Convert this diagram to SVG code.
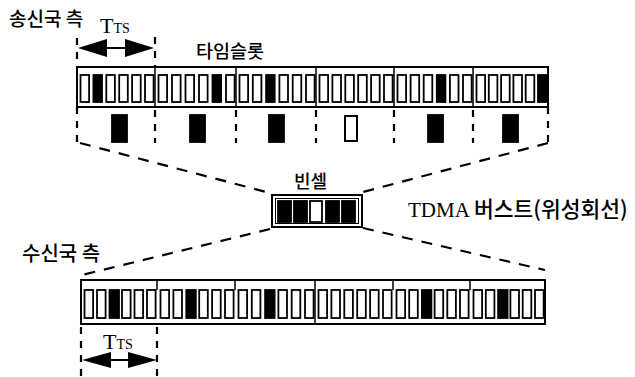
<svg xmlns="http://www.w3.org/2000/svg" width="635" height="377" viewBox="0 0 635 377">
<style>
.c{fill:#fff;stroke:#000;stroke-width:1.8}
.f{fill:#000;stroke:#000;stroke-width:1.8}
.bar{fill:#fff;stroke:#000;stroke-width:2}
.dv{stroke:#000;stroke-width:2.2;stroke-dasharray:7 7;fill:none}
.dd{stroke:#000;stroke-width:2.2;stroke-dasharray:11 9;fill:none}
.tk{stroke:#000;stroke-width:1.5}
.ko{font-family:"Noto Sans CJK KR","Noto Sans",sans-serif;font-weight:500;fill:#000}
.se{font-family:"Liberation Serif","DejaVu Serif",serif;fill:#000}
</style>
<rect width="635" height="377" fill="#fff"/>
<g id="labels">
<text class="ko" x="9" y="26" font-size="19">송신국 측</text>
<text class="ko" x="196" y="58" font-size="18.5">타임슬롯</text>
<text class="ko" x="294" y="188" font-size="18">빈셀</text>
<text class="ko" x="22" y="261" font-size="20">수신국 측</text>
<text x="408" y="217"><tspan class="se" font-size="21">TDMA </tspan><tspan class="ko" font-size="21.5">버스트(위성회선)</tspan></text>
<text class="se" x="100" y="33" font-size="22">T<tspan font-size="14">TS</tspan></text>
<text class="se" x="103" y="349" font-size="22">T<tspan font-size="14">TS</tspan></text>
</g>
<g id="top-bar">
<rect class="bar" x="77" y="67" width="471" height="40"/>
<rect class="c" x="80.5" y="75" width="8.6" height="27"/><rect class="f" x="93.4" y="75" width="8.6" height="27"/><rect class="c" x="106.3" y="75" width="8.6" height="27"/><rect class="c" x="119.2" y="75" width="8.6" height="27"/><rect class="c" x="132.1" y="75" width="8.6" height="27"/><rect class="c" x="145" y="75" width="8.6" height="27"/>
<rect class="c" x="158.5" y="75" width="8.6" height="27"/><rect class="c" x="172" y="75" width="8.6" height="27"/><rect class="c" x="185.5" y="75" width="8.6" height="27"/><rect class="c" x="199" y="75" width="8.6" height="27"/><rect class="f" x="212.5" y="75" width="8.6" height="27"/><rect class="c" x="226" y="75" width="8.6" height="27"/>
<rect class="c" x="239.5" y="75" width="8.6" height="27"/><rect class="c" x="252.8" y="75" width="8.6" height="27"/><rect class="f" x="266.1" y="75" width="8.6" height="27"/><rect class="c" x="279.4" y="75" width="8.6" height="27"/><rect class="c" x="292.7" y="75" width="8.6" height="27"/><rect class="c" x="306" y="75" width="8.6" height="27"/>
<rect class="c" x="319.5" y="75" width="8.6" height="27"/><rect class="c" x="332.4" y="75" width="8.6" height="27"/><rect class="c" x="345.3" y="75" width="8.6" height="27"/><rect class="c" x="358.2" y="75" width="8.6" height="27"/><rect class="c" x="371.1" y="75" width="8.6" height="27"/><rect class="c" x="384" y="75" width="8.6" height="27"/>
<rect class="c" x="397.5" y="75" width="8.6" height="27"/><rect class="c" x="410.6" y="75" width="8.6" height="27"/><rect class="c" x="423.7" y="75" width="8.6" height="27"/><rect class="f" x="436.8" y="75" width="8.6" height="27"/><rect class="c" x="449.9" y="75" width="8.6" height="27"/><rect class="c" x="463" y="75" width="8.6" height="27"/>
<rect class="c" x="476.5" y="75" width="8.6" height="27"/><rect class="c" x="488.8" y="75" width="8.6" height="27"/><rect class="c" x="501.1" y="75" width="8.6" height="27"/><rect class="c" x="513.4" y="75" width="8.6" height="27"/><rect class="c" x="525.7" y="75" width="8.6" height="27"/><rect class="f" x="538" y="75" width="8.6" height="27"/>
<line class="tk" x1="155" y1="67" x2="155" y2="107"/><line class="tk" x1="236" y1="67" x2="236" y2="107"/><line class="tk" x1="316" y1="67" x2="316" y2="107"/><line class="tk" x1="394" y1="67" x2="394" y2="107"/><line class="tk" x1="473" y1="67" x2="473" y2="107"/>
</g>
<g id="slot-cells">
<rect class="f" x="112" y="115" width="15" height="27"/>
<rect class="f" x="190" y="115" width="15" height="27"/>
<rect class="f" x="269" y="115" width="15" height="27"/>
<rect class="c" x="345" y="116" width="12" height="25" style="stroke-width:2"/>
<rect class="f" x="428" y="115" width="15" height="27"/>
<rect class="f" x="503" y="115" width="15" height="27"/>
</g>
<g id="burst">
<rect class="bar" x="272" y="195" width="90" height="32"/>
<rect fill="none" stroke="#000" stroke-width="1" x="275.5" y="198.5" width="83" height="25"/>
<rect class="f" x="278" y="201" width="13" height="21"/>
<rect class="f" x="294" y="201" width="13" height="21"/>
<rect class="c" x="310" y="201" width="12" height="21"/>
<rect class="f" x="326" y="201" width="13" height="21"/>
<rect class="f" x="342" y="201" width="13" height="21"/>
</g>
<g id="bottom-bar">
<rect class="bar" x="81" y="280" width="464" height="44"/>
<rect class="c" x="84.5" y="290" width="8.6" height="28"/><rect class="c" x="97" y="290" width="8.6" height="28"/><rect class="f" x="109.5" y="290" width="9.5" height="28"/><rect class="c" x="122" y="290" width="8.6" height="28"/><rect class="c" x="134.5" y="290" width="8.6" height="28"/><rect class="c" x="147" y="290" width="8.6" height="28"/>
<rect class="c" x="160.5" y="290" width="8.6" height="28"/><rect class="c" x="173.4" y="290" width="8.6" height="28"/><rect class="f" x="186.3" y="290" width="9.5" height="28"/><rect class="c" x="199.2" y="290" width="8.6" height="28"/><rect class="c" x="212.1" y="290" width="8.6" height="28"/><rect class="c" x="225" y="290" width="8.6" height="28"/>
<rect class="c" x="238.5" y="290" width="8.6" height="28"/><rect class="c" x="251.8" y="290" width="8.6" height="28"/><rect class="f" x="265.1" y="290" width="9.5" height="28"/><rect class="c" x="278.4" y="290" width="8.6" height="28"/><rect class="c" x="291.7" y="290" width="8.6" height="28"/><rect class="c" x="305" y="290" width="8.6" height="28"/>
<rect class="c" x="318.5" y="290" width="8.6" height="28"/><rect class="c" x="331.4" y="290" width="8.6" height="28"/><rect class="c" x="344.3" y="290" width="8.6" height="28"/><rect class="c" x="357.2" y="290" width="8.6" height="28"/><rect class="c" x="370.1" y="290" width="8.6" height="28"/><rect class="c" x="383" y="290" width="8.6" height="28"/>
<rect class="c" x="396.5" y="290" width="8.6" height="28"/><rect class="c" x="409.2" y="290" width="8.6" height="28"/><rect class="f" x="421.9" y="290" width="9.5" height="28"/><rect class="c" x="434.6" y="290" width="8.6" height="28"/><rect class="c" x="447.3" y="290" width="8.6" height="28"/><rect class="c" x="460" y="290" width="8.6" height="28"/>
<rect class="c" x="473.5" y="290" width="8.6" height="28"/><rect class="c" x="485.8" y="290" width="8.6" height="28"/><rect class="f" x="498.1" y="290" width="9.5" height="28"/><rect class="c" x="510.4" y="290" width="8.6" height="28"/><rect class="c" x="522.7" y="290" width="8.6" height="28"/><rect class="c" x="535" y="290" width="8.6" height="28"/>
<line class="tk" x1="157" y1="280" x2="157" y2="290"/><line class="tk" x1="235" y1="280" x2="235" y2="290"/><line class="tk" x1="315" y1="280" x2="315" y2="324"/><line class="tk" x1="393" y1="280" x2="393" y2="290"/><line class="tk" x1="470" y1="280" x2="470" y2="290"/>
</g>
<g id="connectors">
<line class="dv" x1="77" y1="38" x2="77" y2="67"/>
<line class="dv" x1="155" y1="37" x2="155" y2="67"/>
<polyline class="dv" points="77,107 77,143"/>
<line class="dv" x1="155" y1="110" x2="155" y2="143"/>
<line class="dv" x1="236" y1="110" x2="236" y2="143"/>
<line class="dv" x1="316" y1="110" x2="316" y2="143"/>
<line class="dv" x1="394" y1="110" x2="394" y2="143"/>
<line class="dv" x1="473" y1="110" x2="473" y2="143"/>
<line class="dv" x1="548" y1="107" x2="548" y2="143"/>
<line class="dd" x1="80" y1="143" x2="270" y2="193"/>
<line class="dd" x1="548" y1="143" x2="363" y2="192"/>
<line class="dd" x1="270" y1="229" x2="82" y2="275"/>
<line class="dd" x1="363" y1="228" x2="545" y2="270"/>
<line class="dv" x1="81" y1="327" x2="81" y2="377"/>
<line class="dv" x1="157" y1="327" x2="157" y2="377"/>
<line x1="105" y1="48" x2="127" y2="48" stroke="#000" stroke-width="2"/>
<polygon points="78,48 107,39 107,57" fill="#000"/>
<polygon points="154,48 125,39 125,57" fill="#000"/>
<line x1="109" y1="360" x2="130" y2="360" stroke="#000" stroke-width="2"/>
<polygon points="82,360 111,352 111,368" fill="#000"/>
<polygon points="157,360 128,352 128,368" fill="#000"/>
</g>
</svg>
